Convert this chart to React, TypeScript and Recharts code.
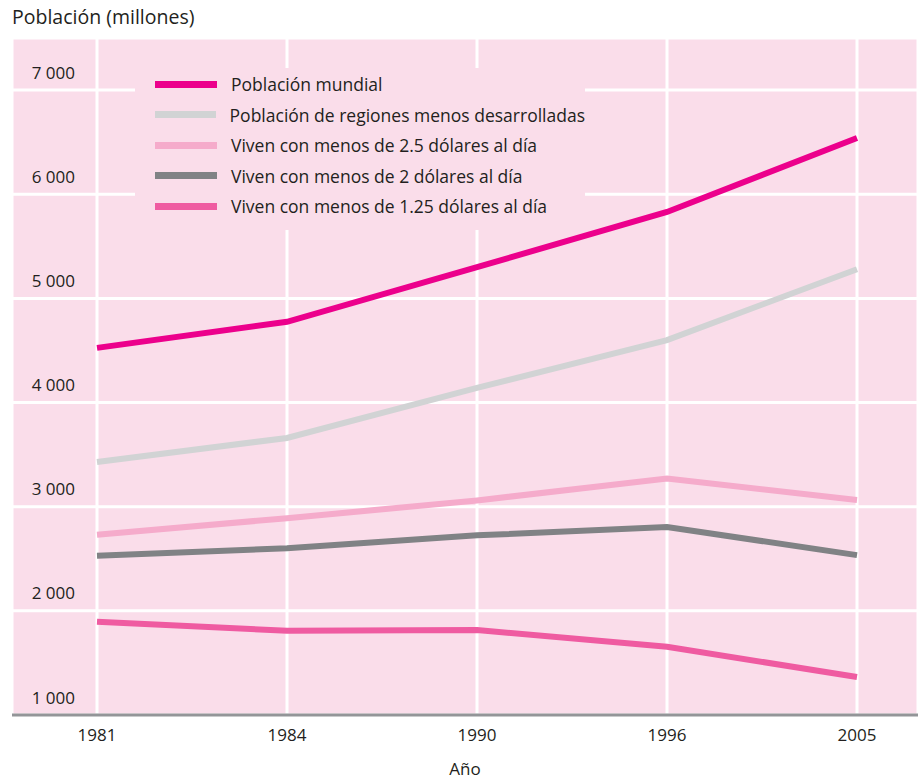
import React from 'react';
import { LineChart, Line, XAxis, YAxis, CartesianGrid, Legend } from 'recharts';

const years = ['1981', '1984', '1990', '1996', '2005'];
const poblacionMundial = [4525, 4775, 5300, 5830, 6540];
const regionesMenosDesarrolladas = [3430, 3660, 4140, 4600, 5280];
const menosDe25 = [2730, 2890, 3060, 3270, 3065];
const menosDe2 = [2530, 2600, 2725, 2805, 2535];
const menosDe125 = [1895, 1808, 1815, 1655, 1365];

const seriesNames = [
  'Población mundial',
  'Población de regiones menos desarrolladas',
  'Viven con menos de 2.5 dólares al día',
  'Viven con menos de 2 dólares al día',
  'Viven con menos de 1.25 dólares al día',
];
const seriesKeys = ['mundial', 'regiones', 'd25', 'd2', 'd125'];
const seriesColors = ['#EC008C', '#D1D3D4', '#F5ABCB', '#808285', '#EF5BA1'];
const seriesValues = [poblacionMundial, regionesMenosDesarrolladas, menosDe25, menosDe2, menosDe125];

const yTicks = [1000, 2000, 3000, 4000, 5000, 6000, 7000];
const yTickLabels = ['1 000', '2 000', '3 000', '4 000', '5 000', '6 000', '7 000'];

const title = 'Población (millones)';
const xTitle = 'Año';

const data = years.map((y, i) => {
  const row: any = { year: y };
  seriesKeys.forEach((k, s) => {
    row[k] = seriesValues[s][i];
  });
  return row;
});

const FONT = '"Open Sans", sans-serif';
const TEXT = '#231F20';
const BG = '#FADDEA';

const YTick = (props: any) => {
  const { y, payload } = props;
  const idx = yTicks.indexOf(payload.value);
  return (
    <text x={75} y={y - 18} textAnchor="end" dominantBaseline="central" fontSize={17} fontFamily={FONT} fill={TEXT}>
      {idx >= 0 ? yTickLabels[idx] : ''}
    </text>
  );
};

const LegendContent = () => {
  return (
    <div style={{ paddingTop: 1, fontFamily: FONT }}>
      {seriesNames.map((name, i) => (
        <div key={i} style={{ display: 'flex', alignItems: 'center', height: 30.5 }}>
          <div style={{ marginLeft: 20, width: 62, height: 7, background: seriesColors[i] }} />
          <div style={{ marginLeft: 14, fontSize: 17.5, color: TEXT, whiteSpace: 'nowrap', lineHeight: '20px' }}>{name}</div>
        </div>
      ))}
    </div>
  );
};

export default function App() {
  return (
    <div style={{ position: 'absolute', left: 0, top: 0, width: 918, height: 779, background: '#fff' }}>
      <div
        style={{
          position: 'absolute',
          left: 12,
          top: 7,
          fontFamily: FONT,
          fontSize: 19.5,
          lineHeight: '20px',
          color: TEXT,
          whiteSpace: 'nowrap',
        }}
      >
        {title}
      </div>
      <LineChart width={918} height={779} data={data} margin={{ top: 38, right: 0, left: 0, bottom: 0 }}>
        <CartesianGrid fill={BG} stroke="#FFFFFF" strokeWidth={3} fillOpacity={1} />
        <XAxis
          dataKey="year"
          height={64}
          padding={{ left: 85, right: 61 }}
          axisLine={{ stroke: '#939598', strokeWidth: 3 }}
          tickLine={false}
          tickMargin={8}
          tick={{ fontSize: 17, fill: TEXT, fontFamily: FONT }}
          label={{ value: xTitle, position: 'insideBottom', offset: 4, fontSize: 17, fill: TEXT, fontFamily: FONT }}
        />
        <YAxis
          width={12}
          domain={[1000, 7500]}
          ticks={yTicks}
          axisLine={false}
          tickLine={false}
          tick={<YTick />}
          allowDataOverflow
        />
        <Legend
          layout="vertical"
          align="center"
          verticalAlign="middle"
          content={<LegendContent />}
          wrapperStyle={{ left: 135, top: 68, width: 450, height: 162, background: BG }}
        />
        {seriesKeys.map((k, s) => (
          <Line
            key={k}
            type="linear"
            dataKey={k}
            name={seriesNames[s]}
            stroke={seriesColors[s]}
            strokeWidth={6}
            dot={false}
            activeDot={false}
            isAnimationActive={false}
          />
        ))}
      </LineChart>
    </div>
  );
}
